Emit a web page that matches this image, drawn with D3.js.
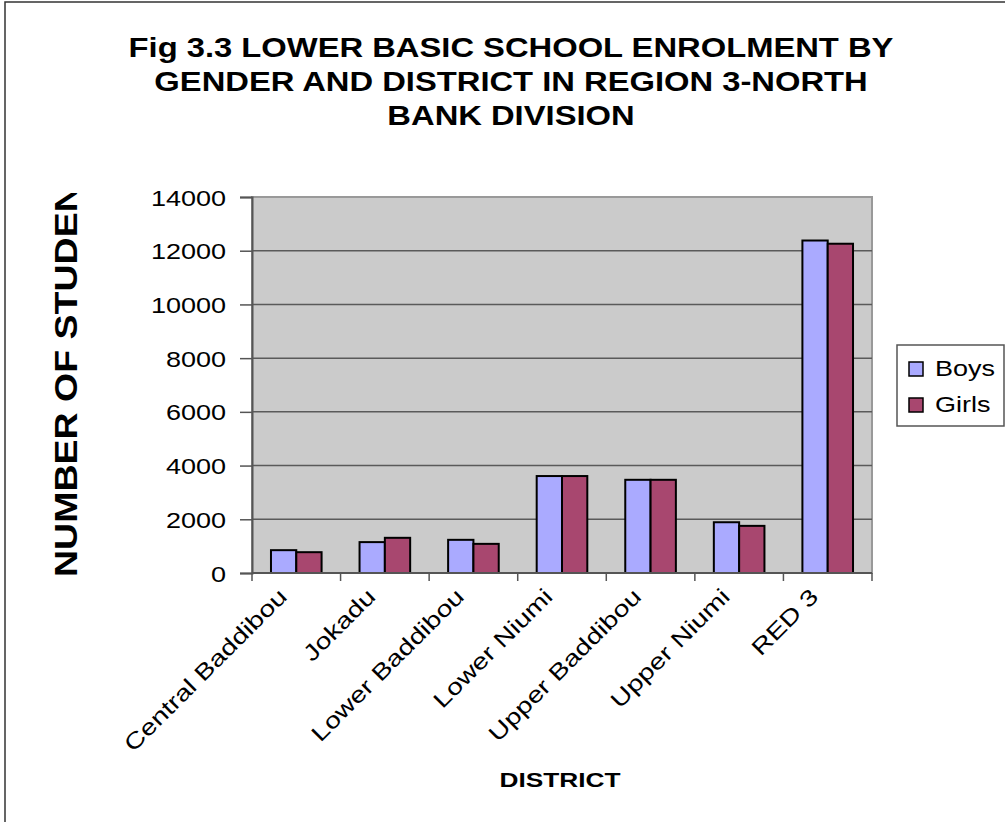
<!DOCTYPE html>
<html>
<head>
<meta charset="utf-8">
<script src="https://cdn.jsdelivr.net/npm/d3@7.9.0/dist/d3.min.js"></script>
<style>
  html, body { margin: 0; padding: 0; background: #fff; }
  svg { display: block; font-family: 'Liberation Sans', Arial, sans-serif; }
</style>
</head>
<body>
<svg width="1005" height="822"></svg>
<script>
const districts = ['Central Baddibou', 'Jokadu', 'Lower Baddibou', 'Lower Niumi', 'Upper Baddibou', 'Upper Niumi', 'RED 3'];
const boys = [850, 1150, 1235, 3610, 3470, 1890, 12380];
const girls = [775, 1310, 1085, 3610, 3470, 1755, 12260];
const seriesNames = ['Boys', 'Girls'];
const seriesColors = ['#aaaaff', '#a8476f'];
const yTicks = [0, 2000, 4000, 6000, 8000, 10000, 12000, 14000];
const titleLines = ['Fig 3.3 LOWER BASIC SCHOOL ENROLMENT BY', 'GENDER AND DISTRICT IN REGION 3-NORTH', 'BANK DIVISION'];

const svg = d3.select('svg');

// text in the source is drawn wider than Arial, so stretch along the baseline
function widen(sel, k) {
  sel.each(function () {
    const len = this.getComputedTextLength();
    d3.select(this).attr('textLength', len * k).attr('lengthAdjust', 'spacingAndGlyphs');
  });
}

// outer frame
svg.append('rect')
  .attr('x', 5).attr('y', 2).attr('width', 1100).attr('height', 1000)
  .attr('fill', '#fff').attr('stroke', '#333').attr('stroke-width', 1.5);

const plot = { left: 252, right: 872, top: 197, bottom: 573 };

const x = d3.scaleBand().domain(districts).range([plot.left, plot.right]);
const inner = d3.scaleBand().domain(seriesNames).range([0, x.bandwidth()]).paddingInner(0).paddingOuter(0.75);
const y = d3.scaleLinear().domain([0, 14000]).range([plot.bottom, plot.top]);

// plot background
svg.append('rect')
  .attr('x', plot.left).attr('y', plot.top)
  .attr('width', plot.right - plot.left).attr('height', plot.bottom - plot.top)
  .attr('fill', '#cbcbcb').attr('stroke', '#999').attr('stroke-width', 2);

// gridlines
svg.append('g').selectAll('line')
  .data(yTicks.slice(1, -1))
  .join('line')
  .attr('x1', plot.left).attr('x2', plot.right)
  .attr('y1', d => y(d)).attr('y2', d => y(d))
  .attr('stroke', '#5a5a5a').attr('stroke-width', 1.5);

// bars
const data = districts.map((d, i) => ({ district: d, values: [boys[i], girls[i]] }));
const groups = svg.append('g').selectAll('g')
  .data(data)
  .join('g')
  .attr('transform', d => `translate(${x(d.district)},0)`);

groups.selectAll('rect')
  .data(d => d.values.map((v, j) => ({ name: seriesNames[j], value: v, color: seriesColors[j] })))
  .join('rect')
  .attr('x', d => inner(d.name))
  .attr('width', inner.bandwidth())
  .attr('y', d => y(d.value))
  .attr('height', d => y(0) - y(d.value))
  .attr('fill', d => d.color)
  .attr('stroke', '#000').attr('stroke-width', 2);

// y axis
const yAxis = svg.append('g')
  .attr('transform', `translate(${plot.left},0)`)
  .call(d3.axisLeft(y).tickValues(yTicks).tickSize(12).tickPadding(14).tickFormat(d3.format('d')));
yAxis.select('.domain').attr('stroke', '#555').attr('stroke-width', 2);
yAxis.selectAll('.tick line').attr('stroke', '#555').attr('stroke-width', 1.5);
yAxis.selectAll('.tick text')
  .attr('font-size', 22.5).attr('fill', '#000').attr('dy', '0.36em')
  .attr('font-family', "'Liberation Sans', Arial, sans-serif")
  .call(widen, 1.2);

// x axis
const xTickPos = districts.map(d => x(d)).concat([plot.right]);
svg.append('line')
  .attr('x1', plot.left).attr('x2', plot.right)
  .attr('y1', plot.bottom).attr('y2', plot.bottom)
  .attr('stroke', '#555').attr('stroke-width', 2);
svg.append('g').selectAll('line')
  .data(xTickPos)
  .join('line')
  .attr('x1', d => d).attr('x2', d => d)
  .attr('y1', plot.bottom).attr('y2', plot.bottom + 8)
  .attr('stroke', '#555').attr('stroke-width', 1.5);

svg.append('g').selectAll('text')
  .data(districts)
  .join('text')
  .attr('transform', d => `translate(${x(d) + x.bandwidth() / 2 - 8},${plot.bottom + 25}) rotate(-45)`)
  .attr('text-anchor', 'end')
  .attr('font-size', 22.5)
  .text(d => d)
  .call(widen, 1.26);

// axis titles
svg.append('text')
  .attr('x', (plot.left + plot.right) / 2 - 2).attr('y', 787)
  .attr('text-anchor', 'middle')
  .attr('font-size', 21).attr('font-weight', 'bold')
  .text('DISTRICT')
  .call(widen, 1.25);

svg.append('clipPath').attr('id', 'yclip')
  .append('rect').attr('x', 0).attr('y', 193).attr('width', 200).attr('height', 600);
svg.append('g')
  .attr('clip-path', 'url(#yclip)')
  .append('text')
  .attr('transform', 'translate(77,577) rotate(-90)')
  .attr('font-size', 31).attr('font-weight', 'bold')
  .text('NUMBER OF STUDENTS')
  .call(widen, 1.21);

// title
svg.append('g').selectAll('text')
  .data(titleLines)
  .join('text')
  .attr('x', 511)
  .attr('y', (d, i) => 57 + i * 34)
  .attr('text-anchor', 'middle')
  .attr('font-size', 27.5).attr('font-weight', 'bold')
  .text(d => d)
  .call(widen, 1.19);

// legend
const legend = svg.append('g');
legend.append('rect')
  .attr('x', 897).attr('y', 345).attr('width', 107).attr('height', 81)
  .attr('fill', '#fff').attr('stroke', '#555').attr('stroke-width', 1.5);
const items = legend.selectAll('g')
  .data(seriesNames)
  .join('g')
  .attr('transform', (d, i) => `translate(909,${362 + i * 36})`);
items.append('rect')
  .attr('width', 14).attr('height', 14)
  .attr('fill', (d, i) => seriesColors[i])
  .attr('stroke', '#000').attr('stroke-width', 1.5);
items.append('text')
  .attr('x', 26).attr('y', 14)
  .attr('font-size', 22.5)
  .text(d => d)
  .call(widen, 1.2);
</script>
</body>
</html>
